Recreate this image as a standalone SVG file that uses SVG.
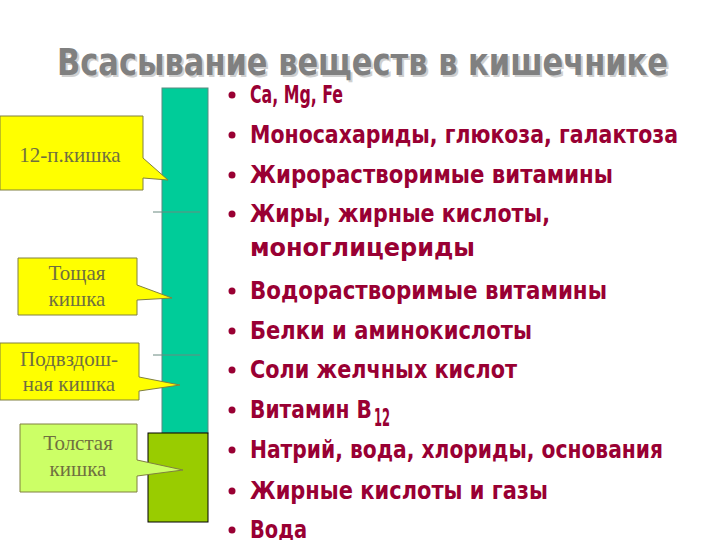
<svg xmlns="http://www.w3.org/2000/svg" width="720" height="540" viewBox="0 0 720 540">
<style>
.t{font-family:"DejaVu Sans Condensed","DejaVu Sans",sans-serif;font-weight:bold;font-size:24px;fill:#990033}
.b{fill:#990033}
.lab{font-family:"Liberation Serif",serif;font-size:21px;fill:#6f6f40;text-anchor:middle}
.box{stroke:#808040;stroke-width:1}
</style>
<rect width="720" height="540" fill="#fff"/>
<g id="title">
<text x="59" y="77" font-family="DejaVu Sans Condensed,sans-serif" font-weight="bold" font-size="38" fill="#d0d0d0" textLength="611" lengthAdjust="spacingAndGlyphs">Всасывание веществ в кишечнике</text>
<text x="57" y="75" font-family="DejaVu Sans Condensed,sans-serif" font-weight="bold" font-size="38" fill="#808080" textLength="611" lengthAdjust="spacingAndGlyphs">Всасывание веществ в кишечнике</text>
</g>
<g id="bar">
<rect x="162" y="88" width="46" height="345" fill="#00cc99" stroke="#5a8a80" stroke-width="1"/>
<rect x="148" y="433" width="60" height="89" fill="#99cc00" stroke="#000" stroke-width="1"/>
</g>
<g id="connectors" stroke="#6a8a80" stroke-width="1">
<line x1="153" y1="212" x2="200" y2="212"/>
<line x1="153" y1="355" x2="200" y2="355"/>
</g>
<g id="n1"><path class="box" d="M0,116H143V158L168,180L143,178V190H0Z" fill="#ffff00"/><text class="lab" x="70" y="162">12-п.кишка</text></g>
<g id="n2"><path class="box" d="M18,258H137V285L172,298L137,300V315H18Z" fill="#ffff00"/><text class="lab" x="77" y="280">Тощая</text><text class="lab" x="77" y="306">кишка</text></g>
<g id="n3"><path class="box" d="M0,343H139V377L180,385L139,391V400H0Z" fill="#ffff00"/><text class="lab" x="69" y="366">Подвздош-</text><text class="lab" x="69" y="391">ная кишка</text></g>
<g id="n4"><path class="box" d="M20,424H137V460L183,470L137,476V492H20Z" fill="#ccff66"/><text class="lab" x="78" y="450">Толстая</text><text class="lab" x="78" y="476">кишка</text></g>
<g id="list">
<g class="b"><circle cx="232" cy="95" r="3.5"/><circle cx="232" cy="135" r="3.5"/><circle cx="232" cy="175" r="3.5"/><circle cx="232" cy="214" r="3.5"/><circle cx="232" cy="291" r="3.5"/><circle cx="232" cy="331" r="3.5"/><circle cx="232" cy="370" r="3.5"/><circle cx="232" cy="410" r="3.5"/><circle cx="232" cy="450" r="3.5"/><circle cx="232" cy="491" r="3.5"/><circle cx="232" cy="530" r="3.5"/></g>
<text class="t" x="250" y="103" textLength="93" lengthAdjust="spacingAndGlyphs">Ca, Mg, Fe</text>
<text class="t" x="250" y="143" textLength="428" lengthAdjust="spacingAndGlyphs">Моносахариды, глюкоза, галактоза</text>
<text class="t" x="250" y="183" textLength="363" lengthAdjust="spacingAndGlyphs">Жирорастворимые витамины</text>
<text class="t" x="250" y="222" textLength="300" lengthAdjust="spacingAndGlyphs">Жиры, жирные кислоты,</text>
<text class="t" x="250" y="256" textLength="225" lengthAdjust="spacingAndGlyphs">моноглицериды</text>
<text class="t" x="250" y="299" textLength="357" lengthAdjust="spacingAndGlyphs">Водорастворимые витамины</text>
<text class="t" x="250" y="339" textLength="282" lengthAdjust="spacingAndGlyphs">Белки и аминокислоты</text>
<text class="t" x="250" y="378" textLength="267" lengthAdjust="spacingAndGlyphs">Соли желчных кислот</text>
<text class="t" x="250" y="418" textLength="122" lengthAdjust="spacingAndGlyphs">Витамин B</text>
<text class="t" x="374" y="426" font-size="15" textLength="16" lengthAdjust="spacingAndGlyphs">12</text>
<text class="t" x="250" y="458" textLength="413" lengthAdjust="spacingAndGlyphs">Натрий, вода, хлориды, основания</text>
<text class="t" x="250" y="499" textLength="298" lengthAdjust="spacingAndGlyphs">Жирные кислоты и газы</text>
<text class="t" x="250" y="538" textLength="57" lengthAdjust="spacingAndGlyphs">Вода</text>
</g>
</svg>
